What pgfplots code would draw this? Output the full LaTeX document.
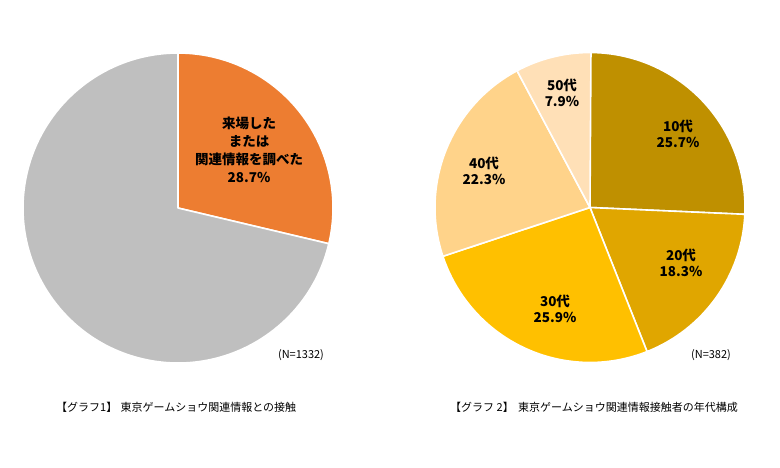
\documentclass[border=0pt]{standalone}
\usepackage{pgfplots}
\pgfplotsset{compat=1.18}
\usepackage{pgfplotstable}
\usepackage{fontspec}
\setmainfont{Noto Sans CJK JP}
\definecolor{orangeA}{HTML}{ED7D31}
\definecolor{grayA}{HTML}{BFBFBF}
\definecolor{c1}{HTML}{BF9000}
\definecolor{c2}{HTML}{E0A600}
\definecolor{c3}{HTML}{FFC000}
\definecolor{c4}{HTML}{FFD38A}
\definecolor{c5}{HTML}{FFE0B7}

% share of each slice, clockwise from 12 o'clock
\pgfplotstableread{
value color
28.7 orangeA
71.3 grayA
}\pieA
\pgfplotstableread{
value color
25.7 c1
18.3 c2
25.9 c3
22.3 c4
7.9 c5
}\pieB

% #1 table, #2 #3 centre (axis units), #4 radius (pt)
\newcommand\drawpie[4]{%
  \pgfplotstablegetrowsof{#1}%
  \pgfmathtruncatemacro\nrows{\pgfplotsretval-1}%
  \gdef\cum{0}%
  \foreach \i in {0,...,\nrows}{%
    \pgfplotstablegetelem{\i}{value}\of{#1}\let\val\pgfplotsretval
    \pgfplotstablegetelem{\i}{color}\of{#1}\let\col\pgfplotsretval
    \pgfmathsetmacro\a{90-3.6*\cum}%
    \pgfmathsetmacro\b{90-3.6*(\cum+\val)}%
    \edef\tmp{\noexpand\filldraw[fill=\col, draw=white, line width=1.6pt, line join=round]
      (axis cs:#2,#3) -- ++(\a:#4pt) arc[start angle=\a, end angle=\b, radius=#4pt] -- cycle;}%
    \tmp
    \pgfmathsetmacro\c{\cum+\val}%
    \xdef\cum{\c}%
  }%
}

\begin{document}
\begin{tikzpicture}
\begin{axis}[
  width=780pt, height=467pt, scale only axis,
  xmin=0, xmax=780, ymin=0, ymax=467,
  hide axis, clip=false,
]
\path (axis cs:0,0) (axis cs:780,467);
\drawpie{\pieA}{178}{259}{155}
\drawpie{\pieB}{590}{259.5}{155}

\node[font=\fontsize{13.5}{18}\selectfont\bfseries, align=center] at (axis cs:249,317)
  {来場した\\または\\関連情報を調べた\\28.7\%};

\begin{scope}[every node/.style={font=\fontsize{13.5}{16.5}\selectfont\bfseries, align=center}]
\node at (axis cs:678,333) {10代\\25.7\%};
\node at (axis cs:681,204) {20代\\18.3\%};
\node at (axis cs:555,158) {30代\\25.9\%};
\node at (axis cs:484,296) {40代\\22.3\%};
\node at (axis cs:562,374) {50代\\7.9\%};
\end{scope}

\node[font=\fontsize{11}{12}\selectfont] at (axis cs:301,112) {(N=1332)};
\node[font=\fontsize{11}{12}\selectfont] at (axis cs:711,112) {(N=382)};

\node[font=\fontsize{11}{12}\selectfont, anchor=west, inner sep=0pt] at (axis cs:56,60)
  {【グラフ1】\hspace{0.3em}東京ゲームショウ関連情報との接触};
\node[font=\fontsize{11}{12}\selectfont, anchor=west, inner sep=0pt] at (axis cs:450,60)
  {【グラフ 2】\hspace{0.4em}東京ゲームショウ関連情報接触者の年代構成};
\end{axis}
\end{tikzpicture}
\end{document}
